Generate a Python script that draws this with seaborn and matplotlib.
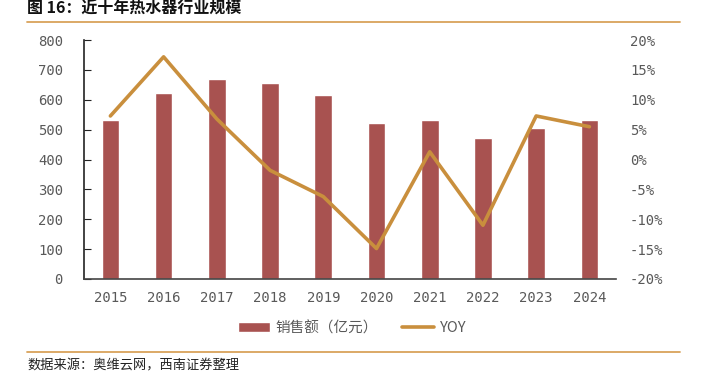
import numpy as np
import pandas as pd
import seaborn as sns
import matplotlib.pyplot as plt
from matplotlib.lines import Line2D
from matplotlib.patches import Patch

# data
years = ['2015', '2016', '2017', '2018', '2019', '2020', '2021', '2022', '2023', '2024']
sales = [532, 624, 669, 657, 617, 524, 532, 471, 507, 532]
yoy = [7.3, 17.2, 6.8, -1.8, -6.2, -14.9, 1.3, -11.0, 7.3, 5.5]

bar_color = '#A85250'
line_color = '#C98F3D'
grey = '#595959'

sns.set_style('white')
plt.rcParams['font.family'] = ['Noto Sans CJK SC', 'DejaVu Sans']

df = pd.DataFrame({'year': years, 'sales': sales, 'yoy': yoy})

fig = plt.figure(figsize=(7.04, 3.75), dpi=100)
ax = fig.add_axes([0.119, 0.256, 0.756, 0.637])

# bars
sns.barplot(x='year', y='sales', data=df, color=bar_color, width=0.33,
            saturation=1, ax=ax)
ax.set_ylim(0, 800)
ax.set_xlim(-0.5, len(years) - 0.5)
ax.set_yticks(range(0, 801, 100))
ax.set_xlabel('')
ax.set_ylabel('')

# yoy line on right axis
ax2 = ax.twinx()
sns.lineplot(x=np.arange(len(years)), y=df['yoy'], color=line_color,
             linewidth=2.6, ax=ax2)
ax2.set_ylim(-20, 20)
ax2.set_yticks(range(-20, 21, 5))
ax2.set_yticklabels([f'{v}%' for v in range(-20, 21, 5)])
ax2.set_ylabel('')

mono = 'DejaVu Sans Mono'
for a in (ax, ax2):
    for s in a.spines.values():
        s.set_visible(False)
    for lab in a.get_xticklabels() + a.get_yticklabels():
        lab.set_fontfamily(mono)
        lab.set_fontsize(10)
        lab.set_color(grey)

ax.spines['left'].set_visible(True)
ax.spines['bottom'].set_visible(True)
ax.spines['left'].set_color('#222222')
ax.spines['bottom'].set_color('#444444')
ax.spines['left'].set_linewidth(1.2)
ax.spines['bottom'].set_linewidth(1.2)

ax.tick_params(axis='y', direction='in', length=5, color='#222222', pad=15)
ax.tick_params(axis='x', which='major', length=0, pad=9)
ax.set_xticks(np.arange(0.5, len(years) - 0.5), minor=True)
ax.tick_params(axis='x', which='minor', direction='in', length=4, color='#222222')
ax2.tick_params(axis='y', length=0, pad=10)

# legend
handles = [Patch(facecolor=bar_color), Line2D([0], [0], color=line_color, linewidth=2.6)]
leg = fig.legend(handles, ['销售额（亿元）', 'YOY'], loc='center',
                 bbox_to_anchor=(352 / 704, 1 - 328 / 375), ncol=2, frameon=False,
                 fontsize=10.5, handlelength=2.2, handleheight=0.6,
                 handletextpad=0.4, columnspacing=1.6)
for t in leg.get_texts():
    t.set_color(grey)

# title, rules, source
fig.text(27 / 704, 1 - 8 / 375, '图 16：近十年热水器行业规模', fontsize=11.5,
         fontweight='bold', va='center', ha='left', color='#111111')
fig.add_artist(Line2D([27 / 704, 680 / 704], [1 - 22 / 375, 1 - 22 / 375],
                      color='#D9A35B', linewidth=1.3, transform=fig.transFigure))
fig.add_artist(Line2D([27 / 704, 680 / 704], [1 - 352 / 375, 1 - 352 / 375],
                      color='#D9A35B', linewidth=1.3, transform=fig.transFigure))
fig.text(27 / 704, 1 - 366 / 375, '数据来源：奥维云网，西南证券整理', fontsize=9.5,
         style='italic', va='center', ha='left', color='#222222')

fig.savefig('out.png', dpi=100)
